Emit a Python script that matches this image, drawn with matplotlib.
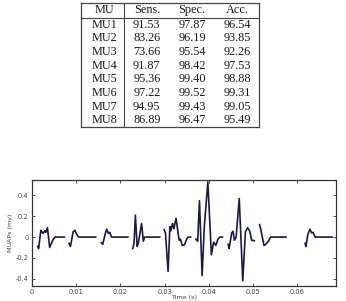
import matplotlib.pyplot as plt
import numpy as np

# table values
headers = ['MU', 'Sens.', 'Spec.', 'Acc.']
mu_names = ['MU1', 'MU2', 'MU3', 'MU4', 'MU5', 'MU6', 'MU7', 'MU8']
sens = [91.53, 83.26, 73.66, 91.87, 95.36, 97.22, 94.95, 86.89]
spec = [97.87, 96.19, 95.54, 98.42, 99.40, 99.52, 99.43, 96.47]
acc = [96.54, 93.85, 92.26, 97.53, 98.88, 99.31, 99.05, 95.49]

# MUAP segments (time in s, amplitude in mV)
seg_times = [
    [0.0013, 0.0015, 0.0020, 0.0025, 0.0029, 0.0031, 0.0035, 0.0040, 0.0047, 0.0052, 0.0073],
    [0.0084, 0.0087, 0.0093, 0.0097, 0.0102, 0.0106, 0.0144],
    [0.0157, 0.0160, 0.0166, 0.0169, 0.0173, 0.0176, 0.0180, 0.0217],
    [0.0228, 0.0231, 0.0234, 0.0238, 0.0241, 0.0248, 0.0252, 0.0255, 0.0289],
    [0.0299, 0.0302, 0.0308, 0.0312, 0.0314, 0.0318, 0.0321, 0.0326, 0.0330, 0.0333,
     0.0336, 0.0340, 0.0345, 0.0350, 0.0353, 0.0359],
    [0.0371, 0.0375, 0.0379, 0.0385, 0.0390, 0.0398, 0.0406, 0.0411, 0.0416, 0.0421, 0.0425, 0.0431],
    [0.0444, 0.0446, 0.0452, 0.0455, 0.0458, 0.0462, 0.0469, 0.0477, 0.0483, 0.0488, 0.0493, 0.0497, 0.0503],
    [0.0515, 0.0517, 0.0525, 0.0529, 0.0535, 0.0540, 0.0575],
    [0.0618, 0.0620, 0.0624, 0.0629, 0.0633, 0.0636, 0.0641, 0.0679],
]
seg_values = [
    [-0.09, -0.11, 0.065, 0.035, 0.06, 0.045, 0.09, -0.10, -0.03, 0.0, 0.0],
    [-0.06, -0.09, 0.05, 0.065, 0.02, 0.0, 0.0],
    [-0.055, -0.07, 0.035, 0.075, 0.035, 0.045, 0.0, 0.0],
    [-0.11, -0.06, 0.21, -0.09, -0.05, 0.13, -0.04, 0.0, 0.0],
    [0.07, 0.04, -0.33, 0.10, 0.06, 0.13, 0.08, 0.18, 0.06, -0.03,
     -0.02, -0.08, -0.075, -0.02, 0.0, 0.0],
    [-0.02, -0.04, 0.35, -0.37, 0.10, 0.53, -0.17, -0.05, -0.08, -0.02, 0.0, 0.0],
    [-0.07, -0.11, 0.04, 0.055, -0.03, 0.0, 0.37, -0.42, 0.05, 0.09, 0.055, -0.03, -0.035],
    [0.12, 0.09, -0.08, -0.07, -0.04, 0.0, 0.0],
    [-0.06, -0.09, 0.02, 0.075, 0.04, 0.045, 0.0, 0.0],
]

fig = plt.figure(figsize=(3.46, 3.01), dpi=100)

# --- table on top ---
serif = 'Liberation Serif'
tax = fig.add_axes([81 / 346, 1 - 127 / 301, 178 / 346, 124 / 301])
head_h = 1.1
tax.set_xlim(0, 1)
tax.set_ylim(head_h + len(mu_names), 0)
tax.set_xticks([])
tax.set_yticks([])
for s in tax.spines.values():
    s.set_linewidth(0.9)
    s.set_color('#444444')
tax.axhline(head_h, color='#444444', lw=0.8)
tax.axvline(0.242, color='#444444', lw=0.8)

col_x = [0.13, 0.37, 0.624, 0.876]
for j, h in enumerate(headers):
    tax.text(col_x[j], head_h / 2, h, ha='center', va='center',
             family=serif, fontsize=8.8, color='#1a1a1a')
for i, name in enumerate(mu_names):
    yc = head_h + i + 0.5
    tax.text(col_x[0], yc, name, ha='center', va='center', family=serif, fontsize=8.8, color='#1a1a1a')
    for j, val in enumerate([sens[i], spec[i], acc[i]]):
        tax.text(col_x[j + 1], yc, f'{val:.2f}', ha='center', va='center',
                 family=serif, fontsize=8.8, color='#1a1a1a')

# --- MUAP trace ---
ax = fig.add_axes([32 / 346, 1 - 286 / 301, 304 / 346, 106 / 301])
for t, v in zip(seg_times, seg_values):
    ax.plot(t, v, color='#1a1a44', lw=1.2)

ax.set_xlim(0, 0.0688)
ax.set_ylim(-0.47, 0.548)
ax.set_xticks([0, 0.01, 0.02, 0.03, 0.04, 0.05, 0.06])
ax.set_xticklabels(['0', '0.01', '0.02', '0.03', '0.04', '0.05', '0.06'])
ax.set_yticks([-0.4, -0.2, 0, 0.2, 0.4])
ax.set_yticklabels(['-0.4', '-0.2', '0', '0.2', '0.4'])
ax.tick_params(direction='in', length=2.5, width=0.6, labelsize=4.8,
               labelcolor='#444444', color='#333333', top=True, right=True, pad=2.5)
for s in ax.spines.values():
    s.set_linewidth(0.9)
    s.set_color('#333333')
ax.set_xlabel('Time (s)', fontsize=4.6, color='#444444', labelpad=0)
ax.set_ylabel('MUAPs (mv)', fontsize=4.6, color='#444444')
ax.yaxis.set_label_coords(-0.064, 0.5)

fig.savefig('out.png', dpi=100)
